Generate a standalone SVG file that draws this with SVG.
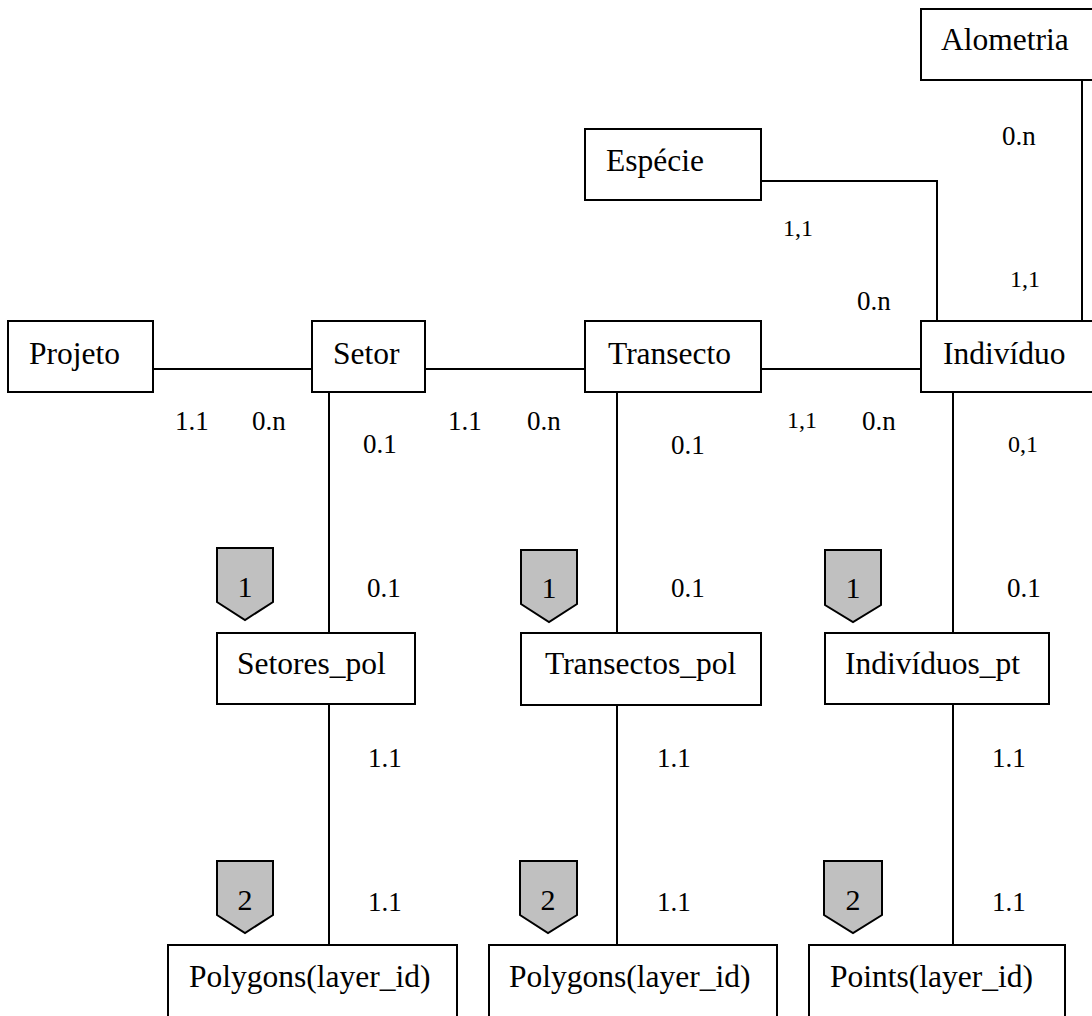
<svg xmlns="http://www.w3.org/2000/svg" width="1092" height="1016" viewBox="0 0 1092 1016">
<style>
.box{fill:#fff;stroke:#000;stroke-width:2}
.t{font-family:"Liberation Serif","Times New Roman",serif;font-size:31.5px;fill:#000}
.l{font-family:"Liberation Serif","Times New Roman",serif;font-size:27px;fill:#000}
.lc{font-family:"Liberation Serif","Times New Roman",serif;font-size:24px;fill:#000}
.badge{fill:#c0c0c0;stroke:#000;stroke-width:2}
.bt{font-family:"Liberation Serif","Times New Roman",serif;font-size:30px;fill:#000;text-anchor:middle}
.c{fill:none;stroke:#000;stroke-width:2}
</style>
<rect width="1092" height="1016" fill="#fff"/>
<g id="connectors">
<path class="c" d="M153 369H312"/>
<path class="c" d="M425 369H585"/>
<path class="c" d="M761 369H921"/>
<path class="c" d="M761 181H937V325"/>
<path class="c" d="M1082 80V321"/>
<path class="c" d="M329 392V633M329 704V945"/>
<path class="c" d="M617 392V633M617 705V945"/>
<path class="c" d="M953 392V633M953 704V945"/>
</g>
<g id="labels">
<text class="l" x="1002" y="145">0.n</text>
<text class="lc" x="1010" y="287">1,1</text>
<text class="lc" x="783" y="236">1,1</text>
<text class="l" x="857" y="310">0.n</text>
<text class="l" x="175" y="430">1.1</text>
<text class="l" x="252" y="430">0.n</text>
<text class="l" x="448" y="430">1.1</text>
<text class="l" x="527" y="430">0.n</text>
<text class="lc" x="787" y="428">1,1</text>
<text class="l" x="862" y="430">0.n</text>
<text class="l" x="363" y="453">0.1</text>
<text class="l" x="671" y="454">0.1</text>
<text class="lc" x="1008" y="452">0,1</text>
<text class="l" x="367" y="597">0.1</text>
<text class="l" x="671" y="597">0.1</text>
<text class="l" x="1007" y="597">0.1</text>
<text class="l" x="368" y="767">1.1</text>
<text class="l" x="657" y="767">1.1</text>
<text class="l" x="992" y="767">1.1</text>
<text class="l" x="368" y="911">1.1</text>
<text class="l" x="657" y="911">1.1</text>
<text class="l" x="992" y="911">1.1</text>
</g>
<g id="badges">
<g id="badge-1a"><path class="badge" d="M217 548H273V602L245 620L217 602Z"/><text class="bt" x="245" y="597">1</text></g>
<g id="badge-1b"><path class="badge" d="M521 550H577V604L549 622L521 604Z"/><text class="bt" x="549" y="598">1</text></g>
<g id="badge-1c"><path class="badge" d="M825 550H881V605L853 622L825 605Z"/><text class="bt" x="853" y="598">1</text></g>
<g id="badge-2a"><path class="badge" d="M217 861H273V915L245 933L217 915Z"/><text class="bt" x="245" y="910">2</text></g>
<g id="badge-2b"><path class="badge" d="M520 861H577V915L548 933L520 915Z"/><text class="bt" x="548" y="910">2</text></g>
<g id="badge-2c"><path class="badge" d="M824 861H882V915L853 933L824 915Z"/><text class="bt" x="853" y="910">2</text></g>
</g>
<g id="alometria"><rect class="box" x="921" y="9" width="180" height="71"/><text class="t" x="941" y="50">Alometria</text></g>
<g id="especie"><rect class="box" x="585" y="129" width="176" height="71"/><text class="t" x="606" y="171">Espécie</text></g>
<g id="projeto"><rect class="box" x="8" y="321" width="145" height="71"/><text class="t" x="29" y="364">Projeto</text></g>
<g id="setor"><rect class="box" x="312" y="321" width="113" height="71"/><text class="t" x="333" y="364">Setor</text></g>
<g id="transecto"><rect class="box" x="585" y="321" width="176" height="71"/><text class="t" x="608" y="364">Transecto</text></g>
<g id="individuo"><rect class="box" x="921" y="321" width="180" height="71"/><text class="t" x="943" y="364">Indivíduo</text></g>
<g id="setores_pol"><rect class="box" x="217" y="633" width="198" height="71"/><text class="t" x="237" y="674">Setores_pol</text></g>
<g id="transectos_pol"><rect class="box" x="521" y="633" width="240" height="72"/><text class="t" x="545" y="674">Transectos_pol</text></g>
<g id="individuos_pt"><rect class="box" x="825" y="633" width="224" height="71"/><text class="t" x="845" y="674">Indivíduos_pt</text></g>
<g id="polygons1"><rect class="box" x="168" y="945" width="289" height="90"/><text class="t" x="189" y="987">Polygons(layer_id)</text></g>
<g id="polygons2"><rect class="box" x="489" y="945" width="288" height="90"/><text class="t" x="509" y="987">Polygons(layer_id)</text></g>
<g id="points"><rect class="box" x="809" y="945" width="256" height="90"/><text class="t" x="830" y="987">Points(layer_id)</text></g>
</svg>
